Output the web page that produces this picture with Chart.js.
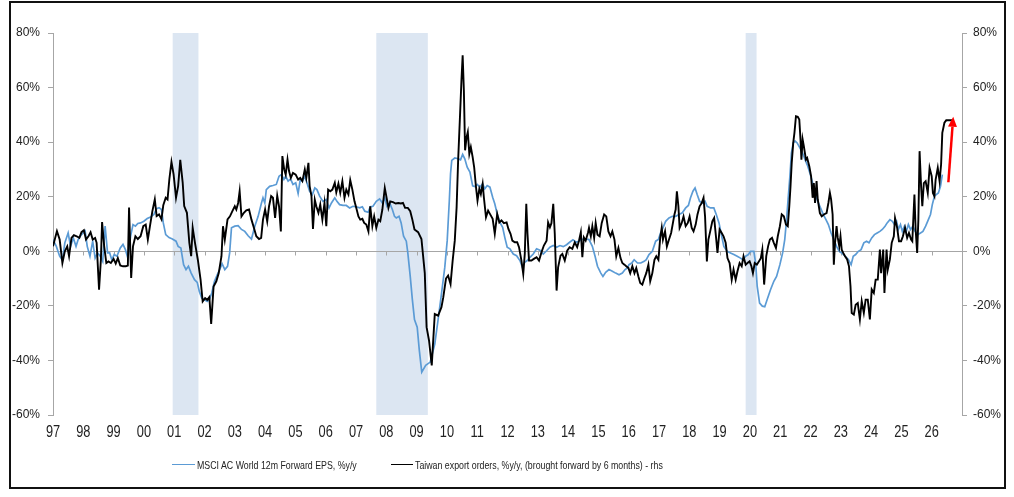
<!DOCTYPE html>
<html><head><meta charset="utf-8">
<script src="https://cdn.jsdelivr.net/npm/chart.js@4"></script>
<style>
html,body{margin:0;padding:0;background:#fff;}
#wrap{position:relative;width:1014px;height:497px;overflow:hidden;}
#c{position:absolute;left:0;top:0;}
#frame{position:absolute;left:9px;top:1px;width:997px;height:488px;border:2px solid #111;box-sizing:border-box;pointer-events:none;}
.leg{position:absolute;top:458px;font-family:'Liberation Sans',Arial,sans-serif;font-size:11px;color:#222;white-space:nowrap;line-height:14px;transform:scaleX(0.8);transform-origin:0 50%;}
.sw{position:absolute;top:464px;height:0;}
</style></head>
<body>
<div id="wrap">
<canvas id="c" width="1014" height="497"></canvas>
<div class="sw" style="left:172px;width:23px;border-top:1.5px solid #5b9bd5"></div>
<div class="leg" style="left:197px">MSCI AC World 12m Forward EPS, %y/y</div>
<div class="sw" style="left:391px;width:22px;border-top:1.5px solid #000"></div>
<div class="leg" style="left:415px">Taiwan export orders, %y/y, (brought forward by 6 months) - rhs</div>
<div id="frame"></div>
</div>
<script>
// Year tick labels
const yearLabels = ['97','98','99','00','01','02','03','04','05','06','07','08','09','10','11','12','13','14','15','16','17','18','19','20','21','22','23','24','25','26'];
const yTickValues = [-60,-40,-20,0,20,40,60,80];
// Recession shading (decimal years)
const bandStart = [2000.95, 2007.67, 2019.86];
const bandEnd   = [2001.80, 2009.37, 2020.22];
// Red arrow (date, % rhs)
const arrowFrom = [2026.55, 25.3];
const arrowTo   = [2026.71, 49.3];

// Taiwan export orders, %y/y (brought forward 6m) - rhs : [decimal year, value]
const taiwanOrders = [
[1997.00,1.8],[1997.13,7.4],[1997.22,4.3],[1997.31,-4.3],[1997.39,0],[1997.47,1.8],[1997.53,-1.8],[1997.61,4.9],[1997.69,5.9],[1997.78,5.5],[1997.87,4.9],[1997.94,7.0],
[1998.02,7.7],[1998.09,4.3],[1998.17,5.5],[1998.24,7.0],[1998.31,4.3],[1998.39,4.9],[1998.44,3.1],[1998.52,-14.1],[1998.58,-3.1],[1998.62,10.7],[1998.69,1.8],[1998.76,-4.3],[1998.83,-3.7],[1998.91,-4.3],
[1999.00,-2.8],[1999.07,-4.5],[1999.14,-2.5],[1999.22,-5.2],[1999.31,-5.5],[1999.40,-5.5],[1999.47,-5.2],[1999.51,16.0],[1999.58,-9.8],[1999.64,1.8],[1999.72,5.5],[1999.80,4.5],[1999.89,5.5],[1999.98,9.2],
[2000.06,9.8],[2000.13,4.3],[2000.20,9.2],[2000.28,14.7],[2000.36,19.0],[2000.42,12.9],[2000.50,13.5],[2000.58,11.7],[2000.64,16.9],[2000.72,19.6],[2000.78,19.0],[2000.84,26.4],[2000.91,32.8],[2000.98,28.2],
[2001.06,19.6],[2001.13,23.9],[2001.20,33.5],[2001.28,25.2],[2001.33,16.6],[2001.42,14.1],[2001.50,3.1],[2001.56,-1.8],[2001.61,8.6],[2001.69,2.8],[2001.78,-3.1],[2001.87,-10.4],[2001.94,-18.4],
[2002.02,-17.2],[2002.09,-17.8],[2002.16,-16.8],[2002.22,-26.6],[2002.30,-12.9],[2002.39,-11.0],[2002.47,-8.0],[2002.56,-1.8],[2002.61,9.2],[2002.67,4.3],[2002.76,11.7],[2002.84,12.8],[2002.92,14.7],
[2003.00,16.5],[2003.05,15.3],[2003.11,17.7],[2003.16,22.0],[2003.22,12.8],[2003.30,14.1],[2003.38,15.0],[2003.47,15.3],[2003.55,11.6],[2003.63,8.6],[2003.71,5.5],[2003.80,4.5],[2003.87,4.9],[2003.93,11.6],
[2004.00,15.3],[2004.07,11.0],[2004.13,16.5],[2004.20,20.2],[2004.26,19.6],[2004.33,12.2],[2004.40,20.4],[2004.46,16.5],[2004.52,7.3],[2004.57,34.9],[2004.63,30.0],[2004.68,28.1],[2004.74,33.6],[2004.79,29.4],[2004.85,26.9],[2004.92,28.7],
[2005.01,28.1],[2005.09,26.3],[2005.16,26.9],[2005.23,25.7],[2005.31,30.0],[2005.36,26.9],[2005.43,32.4],[2005.47,23.9],[2005.53,20.2],[2005.58,8.2],[2005.64,18.9],[2005.69,16.5],[2005.76,14.1],[2005.82,17.1],[2005.89,11.6],[2005.96,17.7],
[2006.02,9.2],[2006.08,22.6],[2006.15,22.0],[2006.22,22.6],[2006.30,25.1],[2006.35,21.6],[2006.42,24.8],[2006.48,21.4],[2006.55,25.7],[2006.62,19.6],[2006.68,22.6],[2006.75,20.8],[2006.81,26.1],[2006.88,22.6],[2006.95,18.3],
[2007.01,15.9],[2007.08,12.8],[2007.14,11.6],[2007.21,11.9],[2007.27,10.4],[2007.34,9.8],[2007.41,7.3],[2007.47,16.5],[2007.54,9.2],[2007.60,12.8],[2007.67,8.6],[2007.74,11.6],[2007.80,11.0],[2007.87,15.3],[2007.95,23.2],
[2008.00,20.2],[2008.07,15.9],[2008.13,18.3],[2008.22,18.0],[2008.31,17.5],[2008.40,17.7],[2008.48,17.5],[2008.55,17.7],[2008.62,15.9],[2008.71,15.9],[2008.79,14.7],[2008.86,11.6],[2008.93,8.0],
[2009.05,7.0],[2009.16,4.5],[2009.27,-8.0],[2009.33,-27.8],[2009.41,-32.7],[2009.50,-41.8],[2009.60,-23.0],[2009.71,-23.6],[2009.82,-20.5],[2009.88,-16.9],[2009.97,-10.0],
[2010.04,-8.9],[2010.12,-12.0],[2010.19,-3.4],[2010.26,3.9],[2010.32,16.0],[2010.37,33.0],[2010.43,49.0],[2010.48,62.6],[2010.52,71.8],[2010.56,59.0],[2010.60,37.0],[2010.65,41.8],[2010.69,43.7],[2010.74,35.7],[2010.79,38.2],[2010.85,34.5],[2010.90,30.8],[2010.96,23.5],
[2011.01,18.6],[2011.07,22.9],[2011.12,21.0],[2011.18,24.7],[2011.22,19.8],[2011.29,12.5],[2011.36,14.9],[2011.42,13.7],[2011.51,11.9],[2011.58,6.4],[2011.66,13.7],[2011.73,10.6],[2011.80,11.3],[2011.88,10.3],[2011.97,10.6],
[2012.03,8.2],[2012.10,6.4],[2012.16,3.9],[2012.24,3.3],[2012.32,3.3],[2012.38,1.5],[2012.46,-3.4],[2012.52,-8.3],[2012.57,-1.0],[2012.62,17.4],[2012.66,6.4],[2012.71,-3.4],[2012.79,-3.4],[2012.87,-2.8],[2012.96,-2.2],
[2013.04,-3.4],[2013.12,-0.4],[2013.20,2.1],[2013.29,3.9],[2013.34,10.6],[2013.40,8.8],[2013.45,10.3],[2013.51,17.4],[2013.56,6.4],[2013.62,-14.4],[2013.67,-5.9],[2013.75,-1.6],[2013.81,-1.0],[2013.89,-3.4],[2013.97,0.2],
[2014.05,1.5],[2014.14,0.9],[2014.22,3.3],[2014.30,1.5],[2014.36,3.9],[2014.42,7.0],[2014.47,-2.2],[2014.52,5.1],[2014.58,3.9],[2014.66,7.0],
[2014.69,8.6],[2014.75,5.5],[2014.80,9.2],[2014.86,4.9],[2014.91,10.4],[2014.97,6.1],
[2015.04,5.5],[2015.11,10.4],[2015.19,13.5],[2015.26,12.8],[2015.33,7.3],[2015.40,5.5],[2015.46,7.3],[2015.53,4.3],[2015.59,-1.8],[2015.66,1.2],[2015.73,-2.5],[2015.79,-4.3],[2015.86,-4.9],[2015.92,-5.5],[2015.99,-6.1],
[2016.05,-8.0],[2016.12,-5.5],[2016.19,-8.0],[2016.25,-6.1],[2016.32,-9.2],[2016.38,-11.6],[2016.45,-12.2],[2016.52,-9.8],[2016.58,-8.0],[2016.65,-4.9],[2016.71,-11.0],[2016.78,-8.0],[2016.85,-3.1],[2016.91,-1.8],[2016.98,-3.1],
[2017.04,4.9],[2017.09,8.6],[2017.13,4.3],[2017.20,7.3],[2017.26,1.8],[2017.33,4.3],[2017.40,6.7],[2017.46,10.4],[2017.51,13.5],[2017.55,15.3],[2017.59,22.0],[2017.64,16.5],[2017.68,8.6],[2017.75,10.4],[2017.81,12.8],[2017.88,9.2],[2017.95,10.4],
[2018.01,12.8],[2018.08,8.6],[2018.14,7.3],[2018.21,9.8],[2018.27,13.5],[2018.34,16.5],[2018.41,17.7],[2018.47,19.6],[2018.52,12.8],[2018.58,-3.7],[2018.63,4.3],[2018.69,7.3],[2018.76,11.0],[2018.82,12.2],[2018.89,4.3],[2018.93,-0.6],
[2019.00,8.0],[2019.07,6.7],[2019.13,5.5],[2019.20,3.1],[2019.26,-2.5],[2019.33,-4.3],[2019.40,-10.4],[2019.46,-6.7],[2019.53,-10.4],[2019.59,-7.3],[2019.66,-4.3],[2019.73,-5.5],[2019.79,-1.8],[2019.86,-4.9],[2019.92,-4.3],[2019.99,-3.7],
[2020.05,-5.5],[2020.10,-8.0],[2020.16,-4.3],[2020.23,-4.9],[2020.30,-3.7],[2020.36,-2.5],[2020.41,0.6],[2020.47,-12.2],[2020.54,-1.8],[2020.60,1.8],
[2020.66,4.3],[2020.73,4.9],[2020.79,3.1],[2020.86,1.2],[2020.92,5.5],[2020.99,9.2],
[2021.05,13.5],[2021.12,12.8],[2021.19,9.8],[2021.25,9.2],[2021.30,16.5],[2021.34,23.8],[2021.38,32.4],[2021.43,39.7],[2021.47,43.4],[2021.52,49.5],[2021.58,49.3],[2021.63,48.3],[2021.67,41.0],[2021.70,33.6],[2021.74,41.0],[2021.78,38.5],[2021.85,33.6],[2021.89,34.2],[2021.96,31.2],
[2022.02,27.5],[2022.07,19.6],[2022.11,25.0],[2022.15,17.7],[2022.20,25.7],[2022.24,19.0],[2022.31,14.0],[2022.37,12.8],[2022.44,13.5],[2022.53,14.0],[2022.59,17.7],[2022.64,21.4],[2022.68,19.0],[2022.73,13.5],[2022.77,-4.9],[2022.81,3.1],[2022.86,9.2],[2022.90,4.9],[2022.95,1.8],[2022.99,5.5],
[2023.03,0.6],[2023.08,-0.6],[2023.14,-1.8],[2023.21,-3.0],[2023.27,-5.5],[2023.32,-12.8],[2023.36,-22.6],[2023.43,-23.2],[2023.49,-19.6],[2023.56,-19.0],[2023.63,-25.0],[2023.69,-18.3],[2023.76,-22.6],[2023.82,-17.7],[2023.89,-17.7],[2023.96,-25.0],
[2024.02,-14.0],[2024.09,-15.3],[2024.15,-10.4],[2024.22,-10.4],[2024.29,0.6],[2024.33,-8.0],[2024.40,0.6],[2024.44,-15.3],[2024.51,0.6],[2024.55,-6.7],[2024.62,-3.0],[2024.68,3.1],[2024.75,5.5],[2024.79,12.2],[2024.86,8.6],[2024.92,3.7],[2024.99,3.7],
[2025.05,5.5],[2025.12,8.6],[2025.19,4.9],[2025.25,6.7],[2025.32,4.3],[2025.36,3.7],[2025.43,20.8],[2025.47,8.0],[2025.52,-0.6],[2025.56,11.6],[2025.60,36.7],[2025.65,23.8],[2025.69,16.5],[2025.74,25.0],[2025.80,25.7],[2025.87,21.4],[2025.93,30.6],
[2026.00,27.5],[2026.04,21.4],[2026.09,20.2],[2026.13,26.3],[2026.20,30.6],[2026.26,25.7],[2026.31,31.8],[2026.35,43.4],[2026.42,47.1],[2026.48,48.0],[2026.59,48.0],[2026.68,48.0]
];

// MSCI AC World 12m Forward EPS, %y/y - lhs : [decimal year, value]
const msciEps = [
[1997.00,4.3],[1997.11,1.8],[1997.22,-1.8],[1997.31,-3.3],[1997.39,3.1],[1997.50,6.7],[1997.58,1.8],[1997.67,4.9],[1997.76,1.8],[1997.83,4.3],[1997.94,6.1],
[1998.06,7.4],[1998.13,1.8],[1998.22,-1.8],[1998.31,3.7],[1998.39,-2.5],[1998.47,-0.6],[1998.56,-1.8],[1998.64,-3.7],[1998.72,9.2],[1998.80,-0.6],[1998.87,-0.6],[1998.94,-3.1],
[1999.02,-1.2],[1999.11,-1.8],[1999.22,1.2],[1999.31,2.5],[1999.39,0.6],[1999.47,-2.5],[1999.56,5.5],[1999.64,9.8],[1999.72,9.2],[1999.80,10.2],[1999.89,10.4],
[2000.00,11.0],[2000.11,12.0],[2000.22,12.6],[2000.33,13.5],[2000.42,15.6],[2000.50,16.0],[2000.58,15.3],[2000.64,10.4],[2000.72,6.1],[2000.83,5.0],[2000.94,4.5],
[2001.06,3.7],[2001.13,1.8],[2001.22,1.2],[2001.31,-4.9],[2001.39,-6.7],[2001.47,-5.5],[2001.56,-8.0],[2001.67,-10.4],[2001.76,-11.4],[2001.83,-14.7],[2001.91,-17.2],
[2002.00,-17.8],[2002.09,-18.4],[2002.17,-17.5],[2002.24,-15.3],[2002.33,-11.0],[2002.42,-8.6],[2002.50,-6.7],[2002.58,-4.5],[2002.67,-6.7],[2002.76,-5.5],[2002.83,-0.6],[2002.89,8.6],
[2003.00,9.2],[2003.11,9.4],[2003.22,8.0],[2003.33,7.3],[2003.44,5.7],[2003.55,4.5],[2003.66,9.2],[2003.77,12.8],[2003.88,17.7],[2003.93,19.6],[2003.99,17.7],
[2004.04,22.6],[2004.15,23.8],[2004.26,24.1],[2004.37,24.5],[2004.46,27.5],[2004.54,28.1],[2004.62,26.3],[2004.68,27.5],[2004.76,25.7],[2004.84,26.5],[2004.92,24.5],
[2005.01,25.1],[2005.09,21.2],[2005.16,26.3],[2005.23,25.7],[2005.31,27.5],[2005.38,25.1],[2005.47,22.0],[2005.56,20.8],[2005.64,23.2],[2005.71,22.6],[2005.80,20.2],[2005.91,18.3],
[2006.02,19.0],[2006.11,15.9],[2006.19,17.7],[2006.30,19.6],[2006.37,18.3],[2006.46,17.1],[2006.57,16.8],[2006.68,16.8],[2006.79,15.9],[2006.90,16.5],
[2007.01,16.3],[2007.12,15.9],[2007.21,16.3],[2007.29,14.7],[2007.40,14.3],[2007.47,16.3],[2007.56,16.5],[2007.67,18.3],[2007.78,19.2],[2007.87,17.7],[2007.95,19.6],
[2008.02,16.5],[2008.11,17.7],[2008.20,15.3],[2008.27,12.8],[2008.33,12.2],[2008.42,12.8],[2008.49,10.4],[2008.57,5.5],[2008.66,3.7],[2008.71,-0.6],[2008.79,-9.2],[2008.86,-17.7],[2008.93,-25.0],
[2009.02,-27.8],[2009.09,-36.3],[2009.17,-44.3],[2009.30,-41.8],[2009.45,-40.6],[2009.60,-34.0],[2009.71,-25.0],[2009.82,-15.7],[2009.93,-5.9],
[2010.01,3.9],[2010.08,18.6],[2010.12,28.4],[2010.16,33.3],[2010.26,34.2],[2010.37,33.9],[2010.45,33.5],[2010.52,35.5],[2010.59,33.9],[2010.67,30.8],[2010.76,29.0],[2010.85,24.0],[2010.92,23.7],
[2011.00,24.5],[2011.09,23.5],[2011.18,24.7],[2011.25,22.9],[2011.33,24.1],[2011.42,23.5],[2011.51,19.8],[2011.58,17.4],[2011.66,13.7],[2011.75,10.6],[2011.84,8.8],[2011.91,5.1],[2011.99,1.5],
[2012.08,0.9],[2012.19,-1.0],[2012.30,-1.6],[2012.41,-3.4],[2012.49,-5.9],[2012.57,-4.0],[2012.65,-3.4],[2012.74,-2.2],[2012.85,-1.0],[2012.96,0.9],
[2013.07,0.4],[2013.18,-1.0],[2013.29,0.2],[2013.40,1.5],[2013.51,2.1],[2013.62,1.5],[2013.73,2.1],[2013.84,1.7],[2013.95,2.4],
[2014.05,3.3],[2014.16,4.2],[2014.27,3.3],[2014.38,3.9],[2014.49,4.5],[2014.60,4.5],[2014.69,4.3],[2014.80,1.8],[2014.89,-1.8],[2014.97,-5.5],
[2015.08,-8.0],[2015.15,-9.2],[2015.24,-7.7],[2015.35,-6.7],[2015.46,-7.3],[2015.57,-8.0],[2015.68,-8.6],[2015.79,-8.0],[2015.88,-6.7],[2015.96,-6.1],
[2016.01,-4.9],[2016.10,-4.3],[2016.18,-3.1],[2016.29,-4.3],[2016.40,-4.3],[2016.51,-3.7],[2016.58,-3.1],[2016.67,-1.2],[2016.78,0],[2016.89,3.7],[2016.98,4.3],
[2017.05,6.7],[2017.13,8.6],[2017.22,11.0],[2017.33,12.2],[2017.44,12.8],[2017.55,12.8],[2017.66,13.5],[2017.77,14.1],[2017.88,15.9],[2017.97,16.8],
[2018.04,19.6],[2018.12,22.0],[2018.19,23.2],[2018.26,20.8],[2018.34,18.3],[2018.43,17.7],[2018.52,18.3],[2018.59,16.5],[2018.70,15.9],[2018.81,15.9],[2018.89,13.5],[2018.98,10.4],
[2019.07,5.5],[2019.14,1.8],[2019.25,0],[2019.36,-0.6],[2019.47,-1.2],[2019.58,-1.8],[2019.69,-2.5],[2019.77,-3.1],[2019.86,-1.8],[2019.95,-1.2],
[2020.02,0],[2020.13,0],[2020.19,-4.3],[2020.24,-12.8],[2020.32,-19.0],[2020.41,-20.1],[2020.49,-20.3],[2020.57,-17.7],[2020.68,-14.1],[2020.79,-11.0],[2020.88,-9.2],[2020.99,-4.9],
[2021.08,-0.6],[2021.15,4.3],[2021.21,11.6],[2021.26,19.0],[2021.32,27.5],[2021.37,36.0],[2021.43,39.7],[2021.49,40.4],[2021.56,39.7],[2021.65,37.9],[2021.74,36.0],[2021.82,33.6],[2021.91,31.2],[2021.98,28.7],
[2022.07,25.0],[2022.15,21.4],[2022.24,18.3],[2022.33,15.9],[2022.42,13.5],[2022.51,11.6],[2022.59,9.8],[2022.68,6.7],[2022.77,4.3],[2022.86,1.8],[2022.95,0],
[2023.03,-0.6],[2023.14,-1.8],[2023.25,-3.0],[2023.34,-4.9],[2023.41,-1.8],[2023.49,-1.2],[2023.58,0],[2023.67,0.6],[2023.76,3.1],[2023.85,3.7],[2023.93,3.1],
[2024.02,4.9],[2024.11,6.1],[2024.20,6.7],[2024.29,7.3],[2024.37,8.0],[2024.46,9.2],[2024.53,10.4],[2024.62,11.6],[2024.70,11.0],[2024.77,9.8],[2024.84,11.0],[2024.90,8.0],[2024.97,9.8],
[2025.03,7.3],[2025.10,9.2],[2025.16,7.3],[2025.23,9.8],[2025.30,8.0],[2025.38,9.2],[2025.45,7.3],[2025.54,6.1],[2025.63,6.7],[2025.71,7.3],[2025.80,9.2],[2025.89,11.6],[2025.96,13.5],
[2026.02,17.1],[2026.09,20.2],[2026.15,20.8],[2026.22,21.4],[2026.29,23.8],[2026.35,28.1]
];

const SANS = "'Liberation Sans', Arial, sans-serif";
const AXIS_GREY = '#a6a6a6';
const X_MIN = 1997, X_MAX = 2027;

const toXY = arr => arr.map(p => ({x: p[0], y: p[1]}));

const backdrop = {
  id: 'backdrop',
  beforeDatasetsDraw(chart) {
    const {ctx, chartArea} = chart;
    const xs = chart.scales.x, ys = chart.scales.y;
    ctx.save();
    ctx.fillStyle = '#dce6f2';
    const top = ys.getPixelForValue(yTickValues[yTickValues.length - 1]);
    const bot = ys.getPixelForValue(yTickValues[0]);
    for (let i = 0; i < bandStart.length; i++) {
      const a = xs.getPixelForValue(bandStart[i]);
      const b = xs.getPixelForValue(bandEnd[i]);
      ctx.fillRect(a, top, b - a, bot - top);
    }
    const y0 = Math.round(ys.getPixelForValue(0)) + 0.5;
    ctx.strokeStyle = AXIS_GREY;
    ctx.lineWidth = 1;
    ctx.beginPath();
    ctx.moveTo(chartArea.left, y0);
    ctx.lineTo(chartArea.right, y0);
    for (let yr = X_MIN + 1; yr < X_MAX; yr++) {
      const px = Math.round(xs.getPixelForValue(yr)) + 0.5;
      ctx.moveTo(px, y0);
      ctx.lineTo(px, y0 + 4);
    }
    ctx.stroke();
    ctx.restore();
  }
};

// Year labels under the plot, drawn condensed (narrow face) at the x scale's tick positions
const yearText = {
  id: 'yearText',
  afterDraw(chart) {
    const {ctx} = chart;
    const xs = chart.scales.x;
    ctx.save();
    ctx.font = "16px " + SANS;
    ctx.fillStyle = '#222';
    ctx.textAlign = 'center';
    ctx.textBaseline = 'middle';
    xs.ticks.forEach(t => {
      const lab = yearLabels[Math.round(t.value) - X_MIN];
      if (!lab) return;
      ctx.save();
      ctx.translate(xs.getPixelForValue(t.value), xs.top + 17.5);
      ctx.scale(0.8, 1);
      ctx.fillText(lab, 0, 0);
      ctx.restore();
    });
    ctx.restore();
  }
};

const arrow = {
  id: 'arrow',
  afterDatasetsDraw(chart) {
    const {ctx} = chart;
    const xs = chart.scales.x, ys = chart.scales.y2;
    const x1 = xs.getPixelForValue(arrowFrom[0]), y1 = ys.getPixelForValue(arrowFrom[1]);
    const x2 = xs.getPixelForValue(arrowTo[0]), y2 = ys.getPixelForValue(arrowTo[1]);
    const ang = Math.atan2(y2 - y1, x2 - x1);
    const headLen = 10, headHalf = 4.5;
    const bx = x2 - headLen * Math.cos(ang), by = y2 - headLen * Math.sin(ang);
    ctx.save();
    ctx.strokeStyle = '#ff0000';
    ctx.fillStyle = '#ff0000';
    ctx.lineWidth = 2.5;
    ctx.beginPath();
    ctx.moveTo(x1, y1);
    ctx.lineTo(bx, by);
    ctx.stroke();
    ctx.beginPath();
    ctx.moveTo(x2, y2);
    ctx.lineTo(bx + headHalf * Math.sin(ang), by - headHalf * Math.cos(ang));
    ctx.lineTo(bx - headHalf * Math.sin(ang), by + headHalf * Math.cos(ang));
    ctx.closePath();
    ctx.fill();
    ctx.restore();
  }
};

const yAxis = (pos, width, pad) => ({
  type: 'linear', position: pos, min: yTickValues[0], max: yTickValues[yTickValues.length - 1],
  afterBuildTicks: s => { s.ticks = yTickValues.map(v => ({value: v})); },
  afterFit: s => { s.width = width; },
  ticks: {padding: pad, color: '#222', font: {family: SANS, size: 12}, callback: v => v + '%'},
  grid: {drawOnChartArea: false, drawTicks: true, tickLength: 5, color: AXIS_GREY, tickColor: AXIS_GREY},
  border: {display: true, color: AXIS_GREY, width: 1}
});

new Chart(document.getElementById('c'), {
  type: 'line',
  data: {
    datasets: [
      {label: 'Taiwan export orders, %y/y, (brought forward by 6 months) - rhs', data: toXY(taiwanOrders), yAxisID: 'y2',
       borderColor: '#000', borderWidth: 1.9, pointRadius: 0, tension: 0, order: 0},
      {label: 'MSCI AC World 12m Forward EPS, %y/y', data: toXY(msciEps), yAxisID: 'y',
       borderColor: '#5b9bd5', borderWidth: 1.7, pointRadius: 0, tension: 0, order: 1}
    ]
  },
  options: {
    responsive: false, animation: false, devicePixelRatio: 1,
    layout: {padding: {top: 33, left: 0, right: 0, bottom: 0}},
    plugins: {legend: {display: false}, tooltip: {enabled: false}},
    scales: {
      x: {
        type: 'linear', min: X_MIN, max: X_MAX,
        afterBuildTicks: s => { const t = []; for (let v = X_MIN; v <= X_MAX; v++) t.push({value: v}); s.ticks = t; },
        afterFit: s => { s.height = 82; },
        ticks: {display: false, autoSkip: false, maxRotation: 0},
        grid: {display: false, drawTicks: false},
        border: {display: false}
      },
      y: yAxis('left', 53, 8),
      y2: yAxis('right', 52, 6)
    }
  },
  plugins: [backdrop, arrow, yearText]
});
</script>
</body></html>
